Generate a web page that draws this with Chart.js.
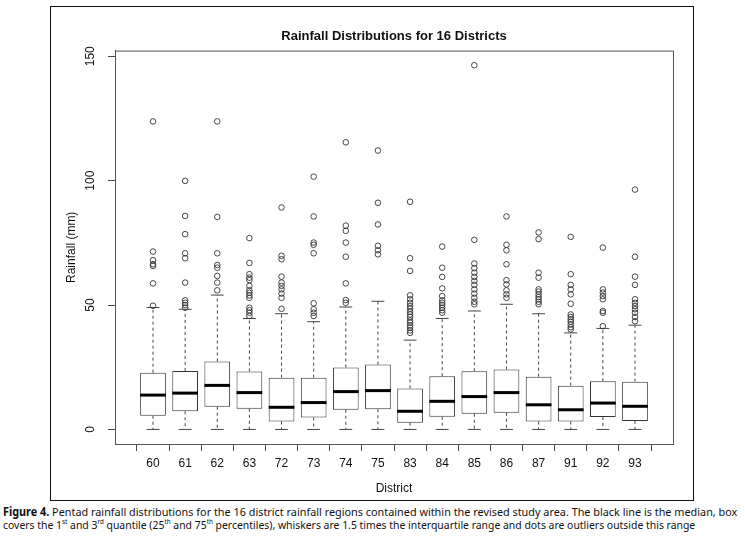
<!DOCTYPE html>
<html lang="en">
<head>
    <meta charset="UTF-8">
    <title>Rainfall Distributions for 16 Districts</title>
    <script src="https://cdn.jsdelivr.net/npm/chart.js"></script>
    <style>
        body { margin: 0; background: #fff; width: 745px; height: 537px; position: relative; overflow: hidden; }
        #frame { position: absolute; left: 50px; top: 6px; width: 642px; height: 493px; border: 1px solid #111; }
        .cap { position: absolute; left: 3px; white-space: nowrap; font-family: "Noto Sans", "Open Sans", sans-serif;
               font-size: 11.5px; color: #111; transform-origin: 0 0; }
        .cap sup { font-size: 7px; line-height: 0; }
    </style>
</head>
<body>
    <div id="frame"><canvas id="boxChart" width="642" height="493"></canvas></div>
    <div class="cap" id="cap1" style="top: 504px;"><b>Figure 4.</b> Pentad rainfall distributions for the 16 district rainfall regions contained within the revised study area. The black line is the median, box</div>
    <div class="cap" id="cap2" style="top: 517px;">covers the 1<sup>st</sup> and 3<sup>rd</sup> quantile (25<sup>th</sup> and 75<sup>th</sup> percentiles), whiskers are 1.5 times the interquartile range and dots are outliers outside this range</div>
    <script>
        // values (mm)
        const districts = ['60', '61', '62', '63', '72', '73', '74', '75', '83', '84', '85', '86', '87', '91', '92', '93'];
        const q1 = [5.5, 7.3, 9.1, 8.3, 3.2, 4.8, 7.9, 8.1, 2.7, 5.1, 6.3, 6.7, 3.2, 3.2, 5.0, 3.4];
        const medians = [13.8, 14.6, 17.7, 14.8, 8.9, 10.8, 15.2, 15.6, 7.3, 11.3, 13.2, 14.8, 9.9, 7.9, 10.6, 9.3];
        const q3 = [22.8, 23.5, 27.3, 23.3, 20.8, 20.8, 24.9, 26.1, 16.5, 21.4, 23.4, 24.1, 21.2, 17.6, 19.4, 19.2];
        const whiskerLow = [0, 0, 0, 0, 0, 0, 0, 0, 0, 0, 0, 0, 0, 0, 0, 0];
        const whiskerHigh = [49.0, 48.3, 54.0, 44.6, 46.5, 43.3, 49.2, 51.5, 35.9, 44.6, 47.6, 50.3, 46.5, 38.8, 40.6, 41.9];
        const outliers = [
            [123.8, 71.5, 68, 66.4, 65.7, 58.7, 49.7],
            [99.9, 85.8, 78.5, 70.8, 68.8, 59, 51.9, 50.9, 50, 48.9],
            [123.8, 85.4, 70.8, 66.1, 65, 61.7, 59, 55.9],
            [76.9, 66.9, 62.4, 61, 60, 57.7, 55.9, 54.9, 53.9, 52.9, 48.9, 47.9, 46.9, 45.6],
            [89.2, 69.8, 68.4, 61.4, 59, 57.7, 56.3, 54.6, 52.9, 48.5],
            [101.6, 85.6, 75.1, 74.2, 70.8, 50.7, 48.3, 46.9, 45.6],
            [115.4, 81.9, 79.8, 75.1, 69.4, 58.7, 52, 50.9],
            [112.1, 91.1, 82.4, 73.8, 72, 70.4],
            [91.5, 68.8, 63.7, 53.9, 52.3, 50.9, 49.6, 48.5, 47.3, 46.2, 45.2, 43.8, 42.9, 41.8, 40.9, 39.8, 38.8],
            [73.5, 65, 61.3, 56.7, 53.6, 51.9, 50.9, 50, 48.9, 47.9, 46.9],
            [146.4, 76.2, 66.7, 64.8, 63, 61.3, 59.7, 58.1, 56.3, 54.6, 52.9, 51.3, 50.3],
            [85.6, 74.2, 72, 66.4, 60, 58.3, 55.9, 54.3, 52.9],
            [79.2, 76.5, 63, 61, 56.3, 55.4, 54.3, 53.2, 52.3, 51.3, 50.3],
            [77.4, 62.4, 58.1, 56.3, 54.3, 50.5, 46.2, 45.2, 44.2, 43.3, 42.2, 41.1, 40.2],
            [73.1, 56.3, 55, 53.6, 52.3, 47.6, 46.9, 41.5],
            [96.4, 69.4, 61.4, 58.1, 52.3, 50.9, 49.6, 48.3, 46.9, 45.2, 43.5]
        ];
        const yTicks = [0, 50, 100, 150];

        // R style axis limits: data range stretched by 4% each side
        const allVals = outliers.flat().concat(whiskerLow, whiskerHigh);
        const yLo = Math.min(...allVals), yHi = Math.max(...allVals);
        const yPad = (yHi - yLo) * 0.04;
        const xPad = districts.length * 0.04;

        const boxData = districts.map((d, i) => ({ x: i + 1, y: [q1[i], q3[i]] }));
        const pointData = [];
        outliers.forEach((list, i) => list.forEach(v => pointData.push({ x: i + 1, y: v })));

        const font = { family: 'Liberation Sans, Arial, sans-serif', size: 12 };

        const boxParts = {
            id: 'boxParts',
            beforeDatasetsDraw(chart) {
                const ctx = chart.ctx, y = chart.scales.y;
                const bars = chart.getDatasetMeta(0).data;
                ctx.save();
                ctx.strokeStyle = '#444';
                ctx.lineWidth = 1;
                bars.forEach((bar, i) => {
                    const half = bar.width / 4;
                    ctx.setLineDash([3, 3]);
                    ctx.beginPath();
                    ctx.moveTo(bar.x, y.getPixelForValue(q3[i]));
                    ctx.lineTo(bar.x, y.getPixelForValue(whiskerHigh[i]));
                    ctx.moveTo(bar.x, y.getPixelForValue(q1[i]));
                    ctx.lineTo(bar.x, y.getPixelForValue(whiskerLow[i]));
                    ctx.stroke();
                    ctx.setLineDash([]);
                    ctx.beginPath();
                    ctx.moveTo(bar.x - half, y.getPixelForValue(whiskerHigh[i]));
                    ctx.lineTo(bar.x + half, y.getPixelForValue(whiskerHigh[i]));
                    ctx.moveTo(bar.x - half, y.getPixelForValue(whiskerLow[i]));
                    ctx.lineTo(bar.x + half, y.getPixelForValue(whiskerLow[i]));
                    ctx.stroke();
                });
                ctx.restore();
            },
            afterDatasetsDraw(chart) {
                const ctx = chart.ctx, y = chart.scales.y, a = chart.chartArea;
                const bars = chart.getDatasetMeta(0).data;
                ctx.save();
                ctx.strokeStyle = '#000';
                ctx.lineWidth = 3;
                bars.forEach((bar, i) => {
                    const py = y.getPixelForValue(medians[i]);
                    ctx.beginPath();
                    ctx.moveTo(bar.x - bar.width / 2, py);
                    ctx.lineTo(bar.x + bar.width / 2, py);
                    ctx.stroke();
                });
                // plot frame
                ctx.strokeStyle = '#555';
                ctx.lineWidth = 1;
                ctx.strokeRect(a.left + 0.5, a.top + 0.5, a.right - a.left, a.bottom - a.top);
                ctx.restore();
            }
        };

        new Chart(document.getElementById('boxChart'), {
            data: {
                datasets: [{
                    type: 'bar',
                    data: boxData,
                    backgroundColor: '#fff',
                    borderColor: '#333',
                    borderWidth: 1,
                    borderSkipped: false,
                    barPercentage: 0.8,
                    categoryPercentage: 1
                }, {
                    type: 'scatter',
                    data: pointData,
                    pointStyle: 'circle',
                    pointRadius: 2.8,
                    backgroundColor: 'rgba(0,0,0,0)',
                    borderColor: '#333',
                    borderWidth: 0.9
                }]
            },
            options: {
                responsive: false,
                animation: false,
                layout: { padding: { left: 0, right: 20, top: 0, bottom: 0 } },
                plugins: {
                    legend: { display: false },
                    tooltip: { enabled: false },
                    title: {
                        display: true,
                        fullSize: false,
                        text: 'Rainfall Distributions for 16 Districts',
                        color: '#111',
                        font: { family: font.family, size: 13, weight: 'bold' },
                        padding: { top: 22, bottom: 6 }
                    }
                },
                scales: {
                    x: {
                        type: 'linear',
                        min: 1 - xPad,
                        max: districts.length + xPad,
                        afterFit: s => { s.height = 56; },
                        afterBuildTicks: s => { s.ticks = districts.map((d, i) => ({ value: i + 1 })); },
                        ticks: { color: '#111', font: font, padding: 5, autoSkip: false, maxRotation: 0,
                                 callback: v => districts[v - 1] },
                        grid: { drawOnChartArea: false, drawTicks: true, tickLength: 7, color: '#444' },
                        border: { display: true, color: '#555' },
                        title: { display: true, text: 'District', color: '#111', font: font, padding: { top: 0, bottom: 4 } }
                    },
                    y: {
                        min: yLo - yPad,
                        max: yHi + yPad,
                        afterFit: s => { s.width = 64; },
                        afterBuildTicks: s => { s.ticks = yTicks.map(v => ({ value: v })); },
                        ticks: { color: '#111', font: font, padding: 7, minRotation: 90, maxRotation: 90, crossAlign: 'center' },
                        grid: { drawOnChartArea: false, drawTicks: true, tickLength: 7, color: '#444' },
                        border: { display: true, color: '#555' },
                        title: { display: true, text: 'Rainfall (mm)', color: '#111', font: font, padding: { top: 13, bottom: 0 } }
                    }
                }
            },
            plugins: [boxParts]
        });

        // squeeze caption lines to the width they have in the figure
        ['cap1', 'cap2'].forEach((id, k) => {
            const el = document.getElementById(id);
            const target = k === 0 ? 734 : 692;
            el.style.transform = 'scaleX(' + (target / el.offsetWidth) + ')';
        });
    </script>
</body>
</html>
